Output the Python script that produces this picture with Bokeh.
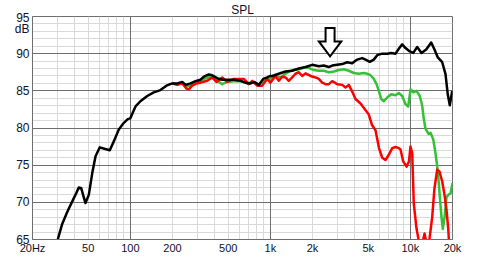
from bokeh.plotting import figure
from bokeh.models import FixedTicker, Grid
from bokeh.embed import file_html
from bokeh.resources import INLINE

# ---------------- data ----------------
title_text = "SPL"
y_unit = "dB"
x_ticks = [20, 50, 100, 200, 500, 1000, 2000, 5000, 10000, 20000]
x_tick_labels = ["20Hz", "50", "100", "200", "500", "1k", "2k", "5k", "10k", "20k"]
y_ticks = [65, 70, 75, 80, 85, 90, 95]

black_f = [29.2, 30.3, 32.6, 35.4, 38.4, 41.2, 42.8, 44.6, 46.3, 47.8,
           50.5, 53.4, 56.4, 60.5, 65.3, 71.3, 76.2, 82.7, 89.8, 95.9,
           100, 108.8, 118, 132, 147, 164, 181, 199, 216, 235,
           248, 269, 292, 317, 335, 363, 384, 417, 453, 492,
           548, 612, 664, 721, 770, 827, 889, 949, 1000, 1031,
           1149, 1283, 1432, 1597, 1783, 1990, 2219, 2409, 2615, 2765,
           3002, 3262, 3540, 3842, 4173, 4530, 4782, 5133, 5480, 5799,
           6295, 6833, 7298, 7834, 8270, 8745, 9235, 9910, 10480, 11190,
           12010, 12980, 14090, 14870, 15710, 16890, 17830, 18510, 19130, 19900]
black_db = [63.5, 65.0, 67.1, 68.7, 70.1, 71.3, 72.0, 71.9, 70.8, 69.9,
            71.0, 73.9, 76.2, 77.4, 77.2, 77.0, 78.2, 79.8, 80.7, 81.2,
            81.3, 82.9, 83.6, 84.3, 84.8, 85.1, 85.7, 86.0, 86.0, 86.2,
            85.8, 86.0, 86.3, 86.5, 86.9, 87.2, 87.1, 86.7, 86.5, 86.5,
            86.5, 86.35, 86.1, 86.0, 86.2, 85.8, 86.6, 86.8, 87.0, 87.0,
            87.3, 87.6, 87.7, 88.0, 88.2, 88.5, 88.3, 88.4, 88.2, 88.4,
            88.5, 88.6, 88.85, 88.7, 89.2, 89.4, 89.2, 88.9, 89.2, 89.8,
            90.0, 90.0, 90.1, 90.0, 90.66, 91.25, 90.75, 90.3, 90.1, 90.9,
            90.1, 90.55, 91.5, 90.55, 89.5, 88.85, 87.25, 84.5, 83.05, 85.0]

green_f = [199, 216, 235, 255, 278, 317, 344, 374, 406, 453,
           492, 548, 612, 683, 746, 827, 889, 949, 1000, 1088,
           1182, 1283, 1432, 1597, 1733, 1882, 2043, 2219, 2409, 2615,
           2840, 3083, 3347, 3634, 3946, 4283, 4651, 4918, 5193, 5480,
           5732, 5953, 6190, 6463, 6833, 7298, 7834, 8270, 8745, 9235,
           9652, 10030, 10480, 11060, 11680, 12150, 12480, 12830, 13480, 13930,
           14560, 15120, 15710, 16230, 16690, 17050, 17540, 18120, 18640, 19350,
           20000]
green_db = [86.0, 85.9, 86.0, 85.6, 85.9, 86.3, 86.7, 86.9, 86.5, 85.9,
            86.2, 86.3, 86.3, 86.0, 86.1, 85.9, 86.2, 86.5, 86.6, 87.0,
            86.8, 87.3, 87.8, 87.9, 88.1, 88.1, 87.8, 87.7, 87.7, 87.5,
            87.6, 87.8, 87.9, 87.7, 87.4, 87.3, 87.4, 87.3, 87.1, 86.6,
            85.9, 85.0, 83.9, 83.6, 84.1, 84.55, 84.4, 84.7, 84.3, 83.2,
            82.9, 85.2, 84.8, 85.0, 84.3, 83.0, 81.2, 79.9, 79.2, 79.35,
            78.5, 76.6, 74.2, 70.8, 68.0, 66.4, 68.0, 70.7, 71.0, 71.2,
            72.6]

red_f = [199, 216, 235, 252, 262, 276, 297, 317, 354, 384,
         412, 453, 492, 548, 646, 702, 742, 805, 875, 949,
         1000, 1088, 1149, 1215, 1283, 1354, 1432, 1512, 1597, 1689,
         1783, 1935, 2101, 2219, 2346, 2477, 2615, 2765, 3002, 3262,
         3440, 3634, 3842, 4057, 4405, 4704, 5050, 5323, 5638, 5971,
         6295, 6640, 7020, 7420, 7834, 8270, 8506, 8890, 9386, 9773,
         10020, 10310, 10580, 11060, 11490, 12010, 12630, 13040, 13540, 14320,
         14870, 15550, 16150, 16890, 17540, 18120, 18640, 19040]
red_db = [86.0, 85.8, 86.0, 85.3, 85.2, 85.7, 86.0, 86.1, 86.35, 86.8,
          86.2, 86.8, 86.2, 86.6, 86.6, 85.9, 86.35, 85.7, 85.7, 86.6,
          86.1, 87.0, 86.35, 86.9, 86.8, 86.35, 86.8, 87.3, 87.5, 87.0,
          87.35, 87.0, 86.8, 86.6, 86.1, 85.9, 85.9, 86.3, 85.9, 85.8,
          85.45, 85.8, 84.9, 83.9, 83.3, 82.6, 81.8, 80.4, 79.7, 77.3,
          76.0, 75.7, 76.4, 77.3, 77.45, 77.3, 77.1, 75.5, 74.8, 75.5,
          77.5, 76.6, 69.85, 66.5, 64.8, 64.0, 65.8, 64.5, 64.3, 68.0,
          71.9, 74.4, 74.15, 72.8, 71.0, 69.0, 66.5, 63.5]

# arrow annotation (frequency and dB levels of its outline)
arrow_freq = 2670
arrow_tip_db = 89.65
arrow_head_db = 91.65
arrow_tail_db = 93.45

# ---------------- figure ----------------
FONT = "Liberation Sans"
TXT = "#10102a"
MAJOR = "#6e6e6e"
MINOR = "#d9d9d9"

p = figure(width=479, height=257, x_axis_type="log",
           x_range=(20, 20000), y_range=(65, 95),
           output_backend="svg", toolbar_location=None,
           min_border_left=32, min_border_right=27,
           min_border_top=0, min_border_bottom=18,
           background_fill_color="white", border_fill_color="white")
p.title.text = title_text
p.title.align = "center"
p.title.text_font = FONT
p.title.text_font_size = "12px"
p.title.text_font_style = "normal"
p.title.text_color = TXT
p.title.standoff = 0
p.title.offset = -2

p.outline_line_color = MAJOR
p.outline_line_width = 1

p.xgrid.grid_line_color = None
p.ygrid.grid_line_color = None

x_lo, x_hi = 20, 20000
minor_x = [k * d for d in (10, 100, 1000, 10000) for k in range(1, 10)
           if x_lo < k * d < x_hi and k != 1]
major_x = [d for d in (100, 1000, 10000)]
minor_y = [v for v in range(66, 95) if v % 5 != 0]
major_y = [v for v in range(70, 95, 5)]

p.add_layout(Grid(dimension=0, ticker=FixedTicker(ticks=minor_x),
                  grid_line_color=MINOR, grid_line_width=1))
p.add_layout(Grid(dimension=1, ticker=FixedTicker(ticks=minor_y),
                  grid_line_color=MINOR, grid_line_width=1))
p.add_layout(Grid(dimension=0, ticker=FixedTicker(ticks=major_x),
                  grid_line_color=MAJOR, grid_line_width=1))
p.add_layout(Grid(dimension=1, ticker=FixedTicker(ticks=major_y),
                  grid_line_color=MAJOR, grid_line_width=1))

p.xaxis.ticker = FixedTicker(ticks=x_ticks, minor_ticks=[])
p.xaxis.major_label_overrides = {t: l for t, l in zip(x_ticks, x_tick_labels)}
p.yaxis.ticker = FixedTicker(ticks=y_ticks, minor_ticks=[])
# top y label carries the unit on a second line below the number
p.yaxis.major_label_overrides = {y_ticks[-1]: "\n" + str(y_ticks[-1]) + "\n" + y_unit}
p.yaxis.major_label_text_line_height = 0.75
for ax in (p.xaxis, p.yaxis):
    ax.axis_line_color = MAJOR
    ax.major_tick_line_color = None
    ax.minor_tick_line_color = None
    ax.major_tick_out = 0
    ax.major_tick_in = 0
    ax.minor_tick_out = 0
    ax.minor_tick_in = 0
    ax.major_label_text_font = FONT
    ax.major_label_text_color = TXT
p.xaxis.major_label_text_font_size = "11px"
p.yaxis.major_label_text_font_size = "12px"
p.xaxis.major_label_standoff = 2
p.yaxis.major_label_standoff = 3

lw = 2.5
p.line(green_f, green_db, line_color="#33c233", line_width=lw, line_join="round")
p.line(red_f, red_db, line_color="#ff0000", line_width=lw, line_join="round")
p.line(black_f, black_db, line_color="#000000", line_width=lw, line_join="round")

# hollow down arrow
s = 10 ** (4.5 / 140)
h = 10 ** (11.2 / 140)
ax_ = [arrow_freq / s, arrow_freq * s, arrow_freq * s, arrow_freq * h,
       arrow_freq, arrow_freq / h, arrow_freq / s]
ay_ = [arrow_tail_db, arrow_tail_db, arrow_head_db, arrow_head_db,
       arrow_tip_db, arrow_head_db, arrow_head_db]
p.patch(ax_, ay_, fill_color="white", line_color="black", line_width=2,
        line_join="miter")

open("out.html", "w").write(file_html(p, INLINE))
